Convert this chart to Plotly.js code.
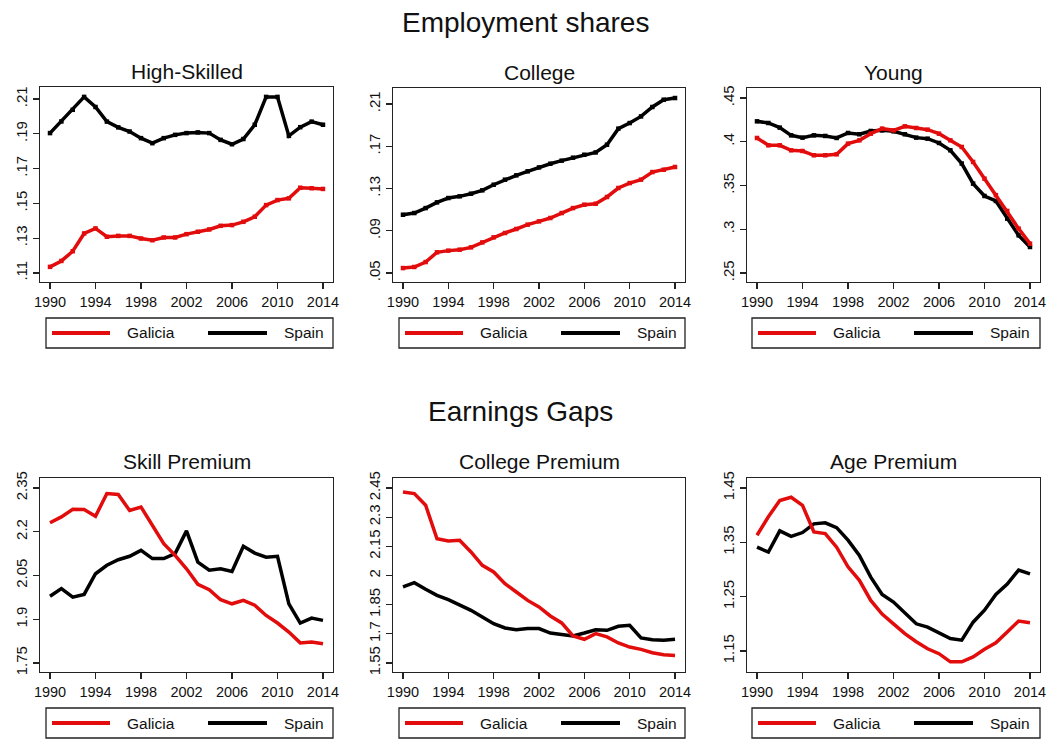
<!DOCTYPE html>
<html>
<head>
<meta charset="utf-8">
<script src="https://cdn.plot.ly/plotly-3.0.1.min.js"></script>
<style>
  body { margin: 0; background: #fff; }
  #chart { width: 1051px; height: 740px; }
</style>
</head>
<body>
<div id="chart"></div>
<script>
// years on every panel
var years = [1990, 1991, 1992, 1993, 1994, 1995, 1996, 1997, 1998, 1999, 2000, 2001, 2002,
             2003, 2004, 2005, 2006, 2007, 2008, 2009, 2010, 2011, 2012, 2013, 2014];
var yearTicks = [1990, 1994, 1998, 2002, 2006, 2010, 2014];

// Employment shares
var hsGalicia = [.1135, .1169, .1225, .1327, .1356, .1308, .1313, .1313, .1298, .1288, .1304, .1304, .1323,
                 .1337, .1350, .1371, .1375, .1394, .1423, .1490, .1519, .1529, .1590, .1587, .1583];
var hsSpain = [.1904, .1971, .2038, .2112, .2054, .1970, .1937, .1913, .1875, .1846, .1875, .1894, .1904,
               .1908, .1904, .1865, .1840, .1870, .1952, .2112, .2112, .1888, .1938, .1970, .1952];
var colGalicia = [.0547, .0557, .0604, .0696, .0712, .0721, .0743, .0790, .0838, .0879, .0917, .0958, .0989,
                  .1021, .1068, .1115, .1147, .1156, .1220, .1305, .1352, .1384, .1456, .1478, .1504];
var colSpain = [.1052, .1068, .1115, .1169, .1210, .1226, .1251, .1283, .1336, .1384, .1425, .1463, .1500,
                .1535, .1564, .1592, .1620, .1642, .1715, .1867, .1920, .1983, .2072, .2141, .2157];
var youngGalicia = [.4043, .3959, .3959, .3902, .3894, .3845, .3845, .3856, .3978, .4016, .4092, .4150, .4130,
                    .4176, .4157, .4138, .4092, .4016, .3940, .3769, .3578, .3390, .3209, .3007, .2835];
var youngSpain = [.4233, .4214, .4161, .4073, .4047, .4073, .4066, .4043, .4100, .4085, .4123, .4130, .4119,
                  .4085, .4047, .4035, .3986, .3902, .3750, .3521, .3380, .3323, .3121, .2930, .2797];

// Earnings gaps
var skillGalicia = [2.231, 2.251, 2.277, 2.276, 2.253, 2.331, 2.328, 2.273, 2.285, 2.222, 2.159, 2.119, 2.073,
                    2.020, 2.001, 1.967, 1.953, 1.965, 1.948, 1.913, 1.887, 1.856, 1.819, 1.822, 1.816];
var skillSpain = [1.979, 2.005, 1.976, 1.985, 2.056, 2.085, 2.104, 2.116, 2.136, 2.108, 2.108, 2.125, 2.203,
                  2.096, 2.068, 2.073, 2.064, 2.150, 2.127, 2.113, 2.116, 1.953, 1.887, 1.904, 1.896];
var colPremGalicia = [2.429, 2.421, 2.361, 2.189, 2.177, 2.181, 2.121, 2.052, 2.018, 1.958, 1.915, 1.872, 1.838,
                      1.792, 1.756, 1.689, 1.672, 1.701, 1.684, 1.653, 1.632, 1.620, 1.603, 1.593, 1.589];
var colPremSpain = [1.941, 1.963, 1.929, 1.898, 1.876, 1.850, 1.821, 1.787, 1.752, 1.730, 1.721, 1.727, 1.727,
                    1.704, 1.696, 1.689, 1.704, 1.721, 1.718, 1.739, 1.744, 1.679, 1.670, 1.667, 1.672];
var agePremGalicia = [1.363, 1.397, 1.427, 1.433, 1.418, 1.369, 1.366, 1.341, 1.305, 1.280, 1.243, 1.218, 1.200,
                      1.182, 1.167, 1.154, 1.145, 1.130, 1.130, 1.139, 1.153, 1.165, 1.185, 1.205, 1.202];
var agePremSpain = [1.341, 1.332, 1.371, 1.361, 1.368, 1.384, 1.386, 1.377, 1.354, 1.326, 1.286, 1.254, 1.240,
                    1.219, 1.200, 1.194, 1.183, 1.173, 1.170, 1.203, 1.225, 1.254, 1.273, 1.299, 1.292];

// tick labels, Stata style
var hsTicks = [.11, .13, .15, .17, .19, .21];
var hsLabels = ['.11', '.13', '.15', '.17', '.19', '.21'];
var colTicks = [.05, .09, .13, .17, .21];
var colLabels = ['.05', '.09', '.13', '.17', '.21'];
var youngTicks = [.25, .3, .35, .4, .45];
var youngLabels = ['.25', '.3', '.35', '.4', '.45'];
var skillTicks = [1.75, 1.9, 2.05, 2.2, 2.35];
var skillLabels = ['1.75', '1.9', '2.05', '2.2', '2.35'];
var colPremTicks = [1.55, 1.7, 1.85, 2, 2.15, 2.3, 2.45];
var colPremLabels = ['1.55', '1.7', '1.85', '2', '2.15', '2.3', '2.45'];
var ageTicks = [1.15, 1.25, 1.35, 1.45];
var ageLabels = ['1.15', '1.25', '1.35', '1.45'];

var W = 1051, H = 740;
var RED = 'rgb(226,12,12)', BLACK = '#000';
var FONT = 'Liberation Sans, Arial, sans-serif';

function px(x) { return x / W; }
function py(y) { return 1 - y / H; }

var panels = [
    {title: 'High-Skilled', g: hsGalicia, s: hsSpain, tv: hsTicks, tt: hsLabels,
     left: 40, right: 333, top: 87, bottom: 282, yr: [0.1048, 0.2169], dots: true, leg: [46, 318]},
    {title: 'College', g: colGalicia, s: colSpain, tv: colTicks, tt: colLabels,
     left: 393, right: 685, top: 88, bottom: 282, yr: [0.0415, 0.2252], dots: true, leg: [399, 318]},
    {title: 'Young', g: youngGalicia, s: youngSpain, tv: youngTicks, tt: youngLabels,
     left: 747, right: 1040, top: 88, bottom: 282, yr: [0.2397, 0.4614], dots: true, leg: [752, 318]},
    {title: 'Skill Premium', g: skillGalicia, s: skillSpain, tv: skillTicks, tt: skillLabels,
     left: 40, right: 333, top: 478, bottom: 672, yr: [1.7191, 2.3843], dots: false, leg: [46, 708]},
    {title: 'College Premium', g: colPremGalicia, s: colPremSpain, tv: colPremTicks, tt: colPremLabels,
     left: 393, right: 685, top: 478, bottom: 672, yr: [1.5037, 2.5014], dots: false, leg: [399, 708]},
    {title: 'Age Premium', g: agePremGalicia, s: agePremSpain, tv: ageTicks, tt: ageLabels,
     left: 747, right: 1040, top: 478, bottom: 672, yr: [1.1113, 1.4684], dots: false, leg: [752, 708]}
];

function label(text, x, y, size, anchor) {
    return {text: text, x: px(x), y: py(y), xref: 'paper', yref: 'paper',
            xanchor: anchor || 'center', yanchor: 'middle', showarrow: false,
            font: {size: size, color: '#111'}};
}

var data = [];
var layout = {
    width: W, height: H, autosize: false,
    margin: {l: 0, r: 0, t: 0, b: 0},
    paper_bgcolor: '#fff', plot_bgcolor: '#fff',
    showlegend: false,
    font: {family: FONT, color: '#111'},
    shapes: [],
    annotations: [
        label('Employment shares', 525, 22, 28),
        label('Earnings Gaps', 520, 411, 28)
    ]
};

panels.forEach(function (p, i) {
    var n = i + 1;
    var xa = 'x' + (n === 1 ? '' : n), ya = 'y' + (n === 1 ? '' : n);
    [[p.s, BLACK, 'Spain'], [p.g, RED, 'Galicia']].forEach(function (t) {
        data.push({
            x: years, y: t[0], xaxis: xa, yaxis: ya, name: t[2],
            type: 'scatter', mode: p.dots ? 'lines+markers' : 'lines',
            line: {color: t[1], width: 3.5},
            marker: {color: t[1], size: 4.5, symbol: 'square'}
        });
    });

    var axisBase = {showgrid: false, zeroline: false, showline: true, mirror: true,
                    linecolor: '#222', linewidth: 1.4, ticks: 'outside', ticklen: 6,
                    tickcolor: '#222', tickwidth: 1.2, fixedrange: true};
    layout['xaxis' + (n === 1 ? '' : n)] = Object.assign({}, axisBase, {
        domain: [px(p.left), px(p.right)], anchor: ya,
        range: [1989.12, 2014.88], tickmode: 'array', tickvals: yearTicks,
        tickfont: {size: 14.5, color: '#111'}
    });
    layout['yaxis' + (n === 1 ? '' : n)] = Object.assign({}, axisBase, {
        domain: [py(p.bottom), py(p.top)], anchor: xa,
        range: p.yr, tickmode: 'array', tickvals: p.tv, ticktext: p.tt,
        tickangle: -90, tickfont: {size: 15, color: '#111'}
    });

    layout.annotations.push(label(p.title, (p.left + p.right) / 2, p.top - 16, 21));

    // legend box under each panel
    var lx = p.leg[0], ly = p.leg[1];
    var bw = p.right - lx, mid = ly + 15;
    layout.shapes.push({type: 'rect', xref: 'paper', yref: 'paper',
        x0: px(lx), x1: px(lx + bw), y0: py(ly), y1: py(ly + 30),
        line: {color: '#222', width: 1.3}});
    layout.shapes.push({type: 'line', xref: 'paper', yref: 'paper',
        x0: px(lx + 6), x1: px(lx + 64), y0: py(mid), y1: py(mid),
        line: {color: RED, width: 4}});
    layout.shapes.push({type: 'line', xref: 'paper', yref: 'paper',
        x0: px(lx + 162), x1: px(lx + 221), y0: py(mid), y1: py(mid),
        line: {color: BLACK, width: 4}});
    layout.annotations.push(label('Galicia', lx + 79, mid, 15.5, 'left'));
    layout.annotations.push(label('Spain', lx + 236, mid, 15.5, 'left'));
});

Plotly.newPlot('chart', data, layout, {staticPlot: true, displayModeBar: false});
</script>
</body>
</html>
